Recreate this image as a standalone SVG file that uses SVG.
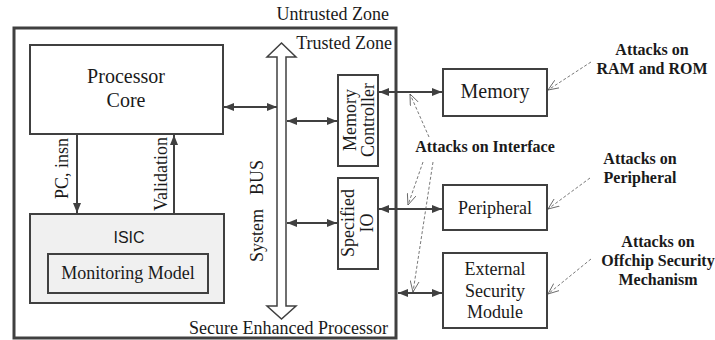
<svg xmlns="http://www.w3.org/2000/svg" width="715" height="340" viewBox="0 0 715 340">
<style>
.box{fill:#fff;stroke:#404040;stroke-width:2}
.t{font-family:"Liberation Serif","Times New Roman",serif;font-size:18px;fill:#1a1a1a}
.b{font-family:"Liberation Serif","Times New Roman",serif;font-size:16px;font-weight:bold;fill:#1a1a1a;text-anchor:middle}
.c{fill:none;stroke:#404040;stroke-width:2}
.d{fill:none;stroke:#555;stroke-width:0.8;stroke-dasharray:3,2}
</style>
<defs>
<marker id="ah" markerUnits="userSpaceOnUse" markerWidth="10" markerHeight="8" refX="10" refY="4" orient="auto-start-reverse">
<path d="M0,0 L10,4 L0,8 z" fill="#404040"/>
</marker>
<marker id="oh" markerUnits="userSpaceOnUse" markerWidth="12" markerHeight="10" refX="11" refY="5" orient="auto">
<path d="M0,0.5 L11,5 L0,9.5" fill="none" stroke="#555" stroke-width="0.8"/>
</marker>
</defs>
<rect width="715" height="340" fill="#fff"/>

<g id="zone">
<rect x="14" y="28" width="382" height="310" fill="none" stroke="#404040" stroke-width="3"/>
<text class="t" x="389" y="20" text-anchor="end">Untrusted Zone</text>
<text class="t" x="392" y="49" text-anchor="end">Trusted Zone</text>
<text class="t" x="388" y="334" text-anchor="end">Secure Enhanced Processor</text>
</g>

<g id="processor-core">
<rect class="box" x="30" y="45" width="193" height="89"/>
<text class="t" x="126" y="83" text-anchor="middle" font-size="20" style="font-size:20px">Processor</text>
<text class="t" x="126" y="107" text-anchor="middle" style="font-size:20px">Core</text>
</g>

<g id="isic">
<rect x="30" y="214" width="194" height="89" fill="#f0f0f0" stroke="#404040" stroke-width="2"/>
<text x="129" y="243" text-anchor="middle" font-family="Liberation Sans, Arial, sans-serif" font-size="16" fill="#1a1a1a">ISIC</text>
</g>

<g id="monitoring-model">
<rect x="48" y="254" width="160" height="39" fill="#f0f0f0" stroke="#404040" stroke-width="2"/>
<text class="t" x="128" y="279" text-anchor="middle">Monitoring Model</text>
</g>

<g id="system-bus">
<path d="M281.5,43 L296,57 L286,57 L286,306 L296,306 L281.5,319 L267,306 L277,306 L277,57 L267,57 Z" fill="#fff" stroke="#404040" stroke-width="1.5"/>
<g transform="translate(263,0) rotate(-90)">
<text class="t" x="-262" y="0">System</text>
<text class="t" x="-195" y="0">BUS</text>
</g>
</g>

<g id="memory-controller">
<rect class="box" x="338" y="75" width="40" height="91"/>
<g transform="translate(0,120) rotate(-90)">
<text class="t" x="0" y="356" text-anchor="middle">Memory</text>
<text class="t" x="0" y="374" text-anchor="middle">Controller</text>
</g>
</g>

<g id="specified-io">
<rect class="box" x="338" y="178" width="40" height="91"/>
<g transform="translate(0,223) rotate(-90)">
<text class="t" x="0" y="354" text-anchor="middle">Specified</text>
<text class="t" x="0" y="373" text-anchor="middle">IO</text>
</g>
</g>

<g id="memory">
<rect class="box" x="443" y="69" width="104" height="47"/>
<text class="t" x="495" y="98" text-anchor="middle" style="font-size:20px">Memory</text>
</g>

<g id="peripheral">
<rect class="box" x="443" y="185" width="104" height="45"/>
<text class="t" x="495" y="214" text-anchor="middle">Peripheral</text>
</g>

<g id="external-security-module">
<rect class="box" x="443" y="253" width="104" height="75"/>
<text class="t" x="495" y="275" text-anchor="middle">External</text>
<text class="t" x="495" y="297" text-anchor="middle">Security</text>
<text class="t" x="495" y="318" text-anchor="middle">Module</text>
</g>

<g id="labels">
<text class="b" x="652" y="55">Attacks on</text>
<text class="b" x="652" y="74">RAM and ROM</text>
<text class="b" x="485" y="152">Attacks on Interface</text>
<text class="b" x="640" y="164">Attacks on</text>
<text class="b" x="640" y="183">Peripheral</text>
<text class="b" x="658" y="247">Attacks on</text>
<text class="b" x="658" y="266">Offchip Security</text>
<text class="b" x="658" y="285">Mechanism</text>
</g>

<g id="connectors">
<line class="c" x1="77" y1="134" x2="77" y2="213" marker-end="url(#ah)"/>
<line class="c" x1="174" y1="213" x2="174" y2="135" marker-end="url(#ah)"/>
<text class="t" transform="translate(68,168.5) rotate(-90)" text-anchor="middle">PC, insn</text>
<text class="t" transform="translate(167,174) rotate(-90)" text-anchor="middle">Validation</text>
<line class="c" x1="224" y1="107" x2="277" y2="107" marker-start="url(#ah)" marker-end="url(#ah)"/>
<line class="c" x1="287" y1="121" x2="337" y2="121" marker-start="url(#ah)" marker-end="url(#ah)"/>
<line class="c" x1="287" y1="223" x2="337" y2="223" marker-start="url(#ah)" marker-end="url(#ah)"/>
<line class="c" x1="379" y1="92" x2="442" y2="92" marker-start="url(#ah)" marker-end="url(#ah)"/>
<line class="c" x1="379" y1="209" x2="442" y2="209" marker-start="url(#ah)" marker-end="url(#ah)"/>
<line class="c" x1="398" y1="293" x2="442" y2="293" marker-start="url(#ah)" marker-end="url(#ah)"/>
<line class="d" x1="591" y1="62" x2="548" y2="90" marker-end="url(#oh)"/>
<line class="d" x1="590" y1="178" x2="548" y2="209" marker-end="url(#oh)"/>
<line class="d" x1="591" y1="259" x2="548" y2="294" marker-end="url(#oh)"/>
<line class="d" x1="429" y1="137" x2="410" y2="94" marker-end="url(#oh)"/>
<line class="d" x1="423" y1="162" x2="408" y2="205" marker-end="url(#oh)"/>
<line class="d" x1="433" y1="162" x2="413" y2="292" marker-end="url(#oh)"/>
</g>
</svg>
